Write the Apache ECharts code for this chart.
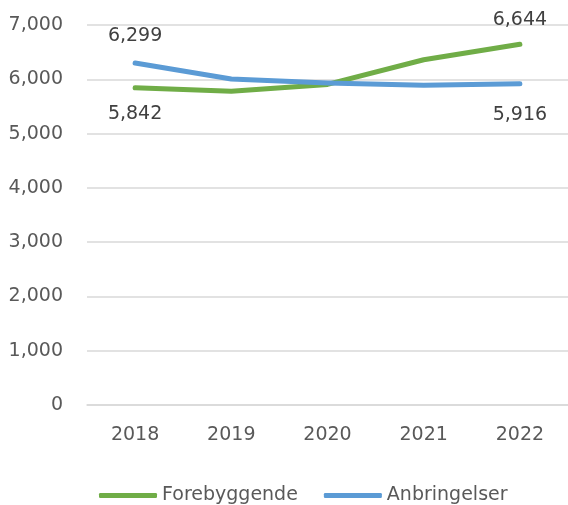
<!DOCTYPE html>
<html>
<head>
<meta charset="utf-8">
<script src="https://cdn.jsdelivr.net/npm/echarts@6/dist/echarts.min.js"></script>
<style>
  html, body { margin: 0; padding: 0; background: #fff; }
  #main { width: 568px; height: 505px; }
</style>
</head>
<body>
<div id="main"></div>
<script>
const years = ["2018", "2019", "2020", "2021", "2022"];
const forebyggende = [5842, 5780, 5905, 6360, 6644];
const anbringelser = [6299, 6005, 5930, 5890, 5916];
// which end gets its label above / below
const forebyggendeLabelPos = ["bottom", "top"];
const anbringelserLabelPos = ["top", "bottom"];

const fmt = v => v.toLocaleString("en-US");

// label only first and last point
function withEndLabels(values, pos, dist) {
	return values.map((v, i) => {
		if (i === 0) return { value: v, label: { show: true, position: pos[0], distance: dist[0] } };
		if (i === values.length - 1) return { value: v, label: { show: true, position: pos[1], distance: dist[1] } };
		return v;
	});
}

const chart = echarts.init(document.getElementById("main"));
const font = "DejaVu Sans";

chart.setOption({
	animation: false,
	grid: { left: 87, right: 0, top: 25, bottom: 100 },
	legend: {
		left: 94,
		top: 481,
		icon: "roundRect",
		itemWidth: 58,
		itemHeight: 5,
		itemGap: 26,
		textStyle: { fontFamily: font, fontSize: 19, color: "#595959" },
		data: ["Forebyggende", "Anbringelser"]
	},
	xAxis: {
		type: "category",
		data: years,
		axisLine: { show: true, lineStyle: { color: "#d9d9d9", width: 1.5 } },
		axisTick: { show: false },
		axisLabel: { fontFamily: font, fontSize: 19, color: "#595959", margin: 21 }
	},
	yAxis: {
		type: "value",
		min: 0,
		max: 7000,
		interval: 1000,
		axisLabel: { fontFamily: font, fontSize: 19, color: "#595959", margin: 24, formatter: v => fmt(v) },
		splitLine: { lineStyle: { color: "#d9d9d9", width: 1.5 } }
	},
	series: [
		{
			name: "Forebyggende",
			type: "line",
			data: withEndLabels(forebyggende, forebyggendeLabelPos, [17, 15]),
			symbol: "circle",
			symbolSize: 0,
			showSymbol: true,
			color: "#70ad47",
			lineStyle: { width: 5, cap: "round", join: "round" },
			label: { fontFamily: font, fontSize: 19, color: "#404040", formatter: p => fmt(p.value) }
		},
		{
			name: "Anbringelser",
			type: "line",
			data: withEndLabels(anbringelser, anbringelserLabelPos, [17, 22]),
			symbol: "circle",
			symbolSize: 0,
			showSymbol: true,
			color: "#5b9bd5",
			lineStyle: { width: 5, cap: "round", join: "round" },
			label: { fontFamily: font, fontSize: 19, color: "#404040", formatter: p => fmt(p.value) }
		}
	]
});
</script>
</body>
</html>
